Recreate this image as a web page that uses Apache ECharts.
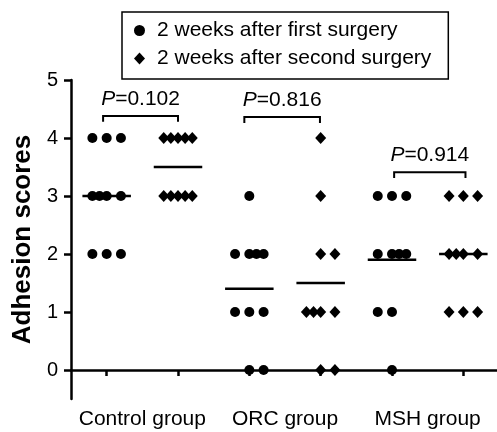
<!DOCTYPE html>
<html>
<head>
<meta charset="utf-8">
<script src="https://cdn.jsdelivr.net/npm/echarts@6/dist/echarts.min.js"></script>
<style>
  html, body { margin: 0; padding: 0; background: #fff; }
  #chart { width: 497px; height: 432px; }
</style>
</head>
<body>
<div id="chart"></div>
<script>
const groupNames = ['Control group', 'ORC group', 'MSH group']
const seriesNames = ['2 weeks after first surgery', '2 weeks after second surgery']
const yTicks = [0, 1, 2, 3, 4, 5]
const xTicks = [1, 2, 3, 4, 5, 6]
const groupCenters = [1.5, 3.5, 5.5]

// scores per group
const firstScores = [
  [4, 4, 4, 3, 3, 3, 3, 2, 2, 2],
  [3, 2, 2, 2, 2, 1, 1, 1, 0, 0],
  [3, 3, 3, 2, 2, 2, 2, 1, 1, 0]
]
const secondScores = [
  [4, 4, 4, 4, 4, 3, 3, 3, 3, 3],
  [4, 3, 2, 2, 1, 1, 1, 1, 0, 0],
  [3, 3, 3, 2, 2, 2, 2, 1, 1, 1]
]
// horizontal spread of the dots inside a column (x units)
const firstJitter = [
  [-0.2, 0, 0.2, -0.2, -0.1, 0, 0.2, -0.2, 0, 0.2],
  [0, -0.2, 0, 0.1, 0.2, -0.2, 0, 0.2, 0, 0.2],
  [-0.2, 0, 0.2, -0.2, 0, 0.1, 0.2, -0.2, 0, 0]
]
const secondJitter = [
  [-0.2, -0.1, 0, 0.1, 0.2, -0.2, -0.1, 0, 0.1, 0.2],
  [0, 0, 0, 0.2, -0.2, -0.1, 0, 0.2, 0, 0.2],
  [-0.2, 0, 0.2, -0.2, -0.1, 0, 0.2, -0.2, 0, 0.2]
]

// comparison brackets
const bracketLeft = [0.95, 2.93, 5.03]
const bracketRight = [2.0, 3.99, 6.03]
const bracketY = [4.38, 4.36, 3.41]
const pValues = ['0.102', '0.816', '0.914']

const FONT = '"Liberation Sans", Arial, sans-serif'

const toPoints = (scores, jitter, offset) => {
  const pts = []
  scores.forEach((col, g) => {
    col.forEach((v, i) => pts.push([g * 2 + offset + jitter[g][i], v]))
  })
  return pts
}
const mean = arr => arr.reduce((a, b) => a + b, 0) / arr.length

const means = []
firstScores.forEach((col, g) => {
  means.push([g * 2 + 1, mean(col)])
  means.push([g * 2 + 2, mean(secondScores[g])])
})

const brackets = bracketLeft.map((l, i) => [l, bracketRight[i], bracketY[i]])

const myChart = echarts.init(document.getElementById('chart'))
myChart.setOption({
  animation: false,
  textStyle: { fontFamily: FONT, color: '#000' },
  grid: {
    left: 71,
    right: -2,
    top: 80,
    bottom: 33,
    outerBoundsMode: 'none'
  },
  legend: {
    orient: 'vertical',
    left: 122,
    top: 12,
    data: [
      { name: seriesNames[0], icon: 'circle' },
      { name: seriesNames[1], icon: 'diamond' }
    ],
    itemWidth: 11,
    itemHeight: 12,
    itemGap: 7,
    borderColor: '#000',
    borderWidth: 1.5,
    padding: [8, 17, 10, 12],
    textStyle: { fontSize: 21, color: '#000', fontFamily: FONT, padding: [0, 0, 0, 7] }
  },
  xAxis: {
    type: 'value',
    min: 0.5,
    max: 6.5,
    splitLine: { show: false },
    axisLine: { show: true, lineStyle: { color: '#000', width: 2.5 } },
    axisTick: { show: true, length: 6, customValues: xTicks, lineStyle: { color: '#000', width: 2.5 } },
    axisLabel: {
      customValues: groupCenters,
      formatter: v => groupNames[groupCenters.indexOf(v)],
      fontSize: 21,
      color: '#000',
      margin: 10
    }
  },
  yAxis: {
    type: 'value',
    min: -0.5,
    max: 5,
    splitLine: { show: false },
    axisLine: { show: true, lineStyle: { color: '#000', width: 2.5 } },
    axisTick: { show: true, length: 7, customValues: yTicks, lineStyle: { color: '#000', width: 2.5 } },
    axisLabel: { customValues: yTicks, fontSize: 20, color: '#000', margin: 13 },
    name: 'Adhesion scores',
    nameLocation: 'middle',
    nameGap: 33,
    nameTextStyle: { fontSize: 26, fontWeight: 'bold', color: '#000', fontFamily: FONT }
  },
  series: [
    {
      name: 'means',
      type: 'custom',
      z: 1,
      data: means,
      encode: { x: 0, y: 1 },
      renderItem: (params, api) => {
        const a = api.coord([api.value(0) - 0.34, api.value(1)])
        const b = api.coord([api.value(0) + 0.34, api.value(1)])
        return {
          type: 'line',
          shape: { x1: a[0], y1: a[1], x2: b[0], y2: b[1] },
          style: { stroke: '#000', lineWidth: 2.5 }
        }
      }
    },
    {
      name: seriesNames[0],
      type: 'scatter',
      z: 3,
      symbol: 'circle',
      symbolSize: 10,
      itemStyle: { color: '#000', opacity: 1 },
      data: toPoints(firstScores, firstJitter, 1)
    },
    {
      name: seriesNames[1],
      type: 'scatter',
      z: 3,
      symbol: 'diamond',
      symbolSize: [11, 12],
      itemStyle: { color: '#000', opacity: 1 },
      data: toPoints(secondScores, secondJitter, 2)
    },
    {
      name: 'brackets',
      type: 'custom',
      z: 2,
      data: brackets,
      encode: { x: [0, 1], y: 2 },
      renderItem: (params, api) => {
        const l = api.coord([api.value(0), api.value(2)])
        const r = api.coord([api.value(1), api.value(2)])
        const drop = api.size([0, 0.1])[1]
        return {
          type: 'group',
          children: [
            {
              type: 'polyline',
              shape: { points: [[l[0], l[1] + drop], [l[0], l[1]], [r[0], r[1]], [r[0], r[1] + drop]] },
              style: { stroke: '#000', lineWidth: 2, fill: null }
            },
            {
              type: 'text',
              x: (l[0] + r[0]) / 2,
              y: l[1] - 17,
              style: {
                text: '{i|P}=' + pValues[params.dataIndex],
                rich: { i: { fontStyle: 'italic', fontSize: 21, fontFamily: FONT, fill: '#000' } },
                fontSize: 21,
                fontFamily: FONT,
                fill: '#000',
                align: 'center',
                verticalAlign: 'middle'
              }
            }
          ]
        }
      }
    }
  ]
})
</script>
</body>
</html>
